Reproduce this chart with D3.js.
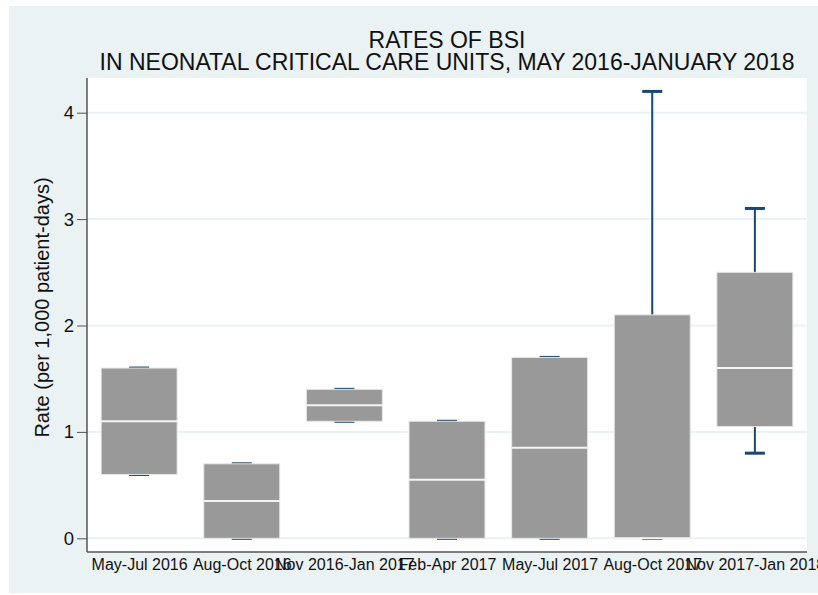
<!DOCTYPE html>
<html>
<head>
<meta charset="utf-8">
<title>Rates of BSI</title>
<script src="https://d3js.org/d3.v7.min.js"></script>
<style>
  body { margin: 0; background: #fff; }
  text { font-family: "Liberation Sans", Arial, sans-serif; fill: #111; }
</style>
</head>
<body>
<script>
// periods on the x axis
var periods = ["May-Jul 2016", "Aug-Oct 2016", "Nov 2016-Jan 2017", "Feb-Apr 2017",
               "May-Jul 2017", "Aug-Oct 2017", "Nov 2017-Jan 2018"];
// box statistics
var lowWhisker = [0.6, 0,    1.1,  0,    0,    0,   0.8];
var q1         = [0.6, 0,    1.1,  0,    0,    0,   1.05];
var median     = [1.1, 0.35, 1.25, 0.55, 0.85, 0,   1.6];
var q3         = [1.6, 0.7,  1.4,  1.1,  1.7,  2.1, 2.5];
var highWhisker= [1.6, 0.7,  1.4,  1.1,  1.7,  4.2, 3.1];
var yTicks = [0, 1, 2, 3, 4];

var W = 818, H = 595;
var plot = {left: 87, right: 807, top: 78, bottom: 552};

var svg = d3.select("body").append("svg")
    .attr("width", W).attr("height", H);

// outer background
svg.append("rect")
    .attr("x", 9).attr("y", 6)
    .attr("width", W - 9).attr("height", 587)
    .attr("fill", "#eaf2f3");

// plot region
svg.append("rect")
    .attr("x", plot.left).attr("y", plot.top)
    .attr("width", plot.right - plot.left).attr("height", plot.bottom - plot.top)
    .attr("fill", "#fff");

var x = d3.scalePoint()
    .domain(periods)
    .range([plot.left, plot.right])
    .padding(0.508);

var y = d3.scaleLinear()
    .domain([0, 4])
    .range([538.3, 112.7]);

var boxW = x.step() * 0.74;

// grid lines
svg.append("g")
    .selectAll("line")
    .data(yTicks)
    .enter().append("line")
    .attr("x1", plot.left).attr("x2", plot.right)
    .attr("y1", function(d) { return y(d); })
    .attr("y2", function(d) { return y(d); })
    .attr("stroke", "#eaf2f3")
    .attr("stroke-width", 2);

// y axis
var yAxis = svg.append("g")
    .attr("transform", "translate(" + plot.left + ",0)")
    .call(d3.axisLeft(y).tickValues(yTicks).tickSize(10).tickPadding(3).tickFormat(d3.format("d")));
yAxis.select(".domain").remove();
yAxis.selectAll(".tick line").attr("stroke", "#555");
yAxis.selectAll(".tick text")
    .style("font-size", "18.5px")
    .attr("fill", "#111");
svg.append("line")
    .attr("x1", plot.left).attr("x2", plot.left)
    .attr("y1", plot.top).attr("y2", plot.bottom)
    .attr("stroke", "#555").attr("stroke-width", 1.5);

// x axis
var xAxis = svg.append("g")
    .attr("transform", "translate(0," + plot.bottom + ")")
    .call(d3.axisBottom(x).tickSize(0).tickPadding(6));
xAxis.select(".domain").remove();
xAxis.selectAll(".tick text")
    .style("font-size", "16px")
    .attr("dy", "0.78em")
    .attr("fill", "#111");
svg.append("line")
    .attr("x1", plot.left).attr("x2", plot.right)
    .attr("y1", plot.bottom).attr("y2", plot.bottom)
    .attr("stroke", "#555").attr("stroke-width", 1.5);

var idx = d3.range(periods.length);
var marks = svg.append("g");
var whiskColor = "#1a476f";

// whiskers (drawn under the boxes)
marks.selectAll(".whisk")
    .data(idx).enter().append("line")
    .attr("x1", function(i) { return x(periods[i]); })
    .attr("x2", function(i) { return x(periods[i]); })
    .attr("y1", function(i) { return y(highWhisker[i]); })
    .attr("y2", function(i) { return y(lowWhisker[i]); })
    .attr("stroke", whiskColor).attr("stroke-width", 2);

[highWhisker, lowWhisker].forEach(function(arr) {
  marks.append("g").selectAll("line")
    .data(idx).enter().append("line")
    .attr("x1", function(i) { return x(periods[i]) - 10; })
    .attr("x2", function(i) { return x(periods[i]) + 10; })
    .attr("y1", function(i) { return y(arr[i]); })
    .attr("y2", function(i) { return y(arr[i]); })
    .attr("stroke", whiskColor).attr("stroke-width", 3);
});

// boxes
marks.selectAll(".box")
    .data(idx).enter().append("rect")
    .attr("x", function(i) { return x(periods[i]) - boxW / 2; })
    .attr("y", function(i) { return y(q3[i]); })
    .attr("width", boxW)
    .attr("height", function(i) { return y(q1[i]) - y(q3[i]); })
    .attr("fill", "#999999")
    .attr("stroke", "#e6e6e6")
    .attr("stroke-width", 1);

// medians
marks.selectAll(".med")
    .data(idx).enter().append("line")
    .attr("x1", function(i) { return x(periods[i]) - boxW / 2; })
    .attr("x2", function(i) { return x(periods[i]) + boxW / 2; })
    .attr("y1", function(i) { return y(median[i]); })
    .attr("y2", function(i) { return y(median[i]); })
    .attr("stroke", "#f4f4f4").attr("stroke-width", 2);

// title
var cx = (plot.left + plot.right) / 2;
svg.append("text")
    .attr("x", cx).attr("y", 48)
    .attr("text-anchor", "middle")
    .style("font-size", "23px")
    .text("RATES OF BSI");
svg.append("text")
    .attr("x", cx).attr("y", 70)
    .attr("text-anchor", "middle")
    .style("font-size", "23px")
    .text("IN NEONATAL CRITICAL CARE UNITS, MAY 2016-JANUARY 2018");

// y axis title
svg.append("text")
    .attr("transform", "translate(49,307.5) rotate(-90)")
    .attr("text-anchor", "middle")
    .style("font-size", "20px")
    .text("Rate (per 1,000 patient-days)");
</script>
</body>
</html>
